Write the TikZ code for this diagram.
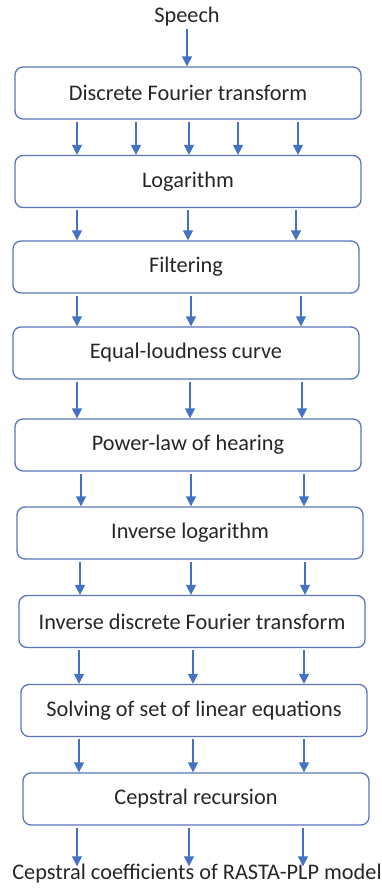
\documentclass[tikz,border=0pt]{standalone}
\usepackage{fontspec}
\setmainfont{Carlito}
\usetikzlibrary{arrows.meta}
\definecolor{boxline}{HTML}{5B74BC}
\definecolor{arrowc}{HTML}{4472C4}
\definecolor{txt}{HTML}{262626}
\begin{document}
\begin{tikzpicture}[x=1pt,y=-1pt,
  stage/.style={draw=boxline, line width=1.3pt, rounded corners=8pt, minimum width=346pt, minimum height=52pt, inner sep=0pt, text=txt, font=\fontsize{22.3}{26}\selectfont},
  lbl/.style={inner sep=0pt, text=txt, font=\fontsize{22.3}{26}\selectfont},
  arr/.style={draw=arrowc, line width=1.3pt, -{Triangle[width=10pt,length=10pt]}, shorten <=2pt}]
\useasboundingbox (0,0) rectangle (382,889);
\node[lbl] (sp) at (187,17) {Speech};
\node[stage] (b1) at (188,93) {Discrete Fourier transform};
\node[stage] (b2) at (188,181.5) {Logarithm};
\node[stage] (b3) at (186,267) {Filtering};
\node[stage] (b4) at (186,353) {Equal-loudness curve};
\node[stage] (b5) at (188,445) {Power-law of hearing};
\node[stage] (b6) at (190,533) {Inverse logarithm};
\node[stage] (b7) at (192,621.5) {Inverse discrete Fourier transform};
\node[stage] (b8) at (194,710.5) {Solving of set of linear equations};
\node[stage] (b9) at (196,799) {Cepstral recursion};
\node[lbl] (out) at (197,874) {Cepstral coefficients of RASTA-PLP model};
\draw[arr] (sp.south -| 187,0) -- (b1.north -| 187,0);
\foreach \x in {77,136,189,238,298} \draw[arr] (b1.south -| \x,0) -- (b2.north -| \x,0);
\foreach \x in {77,188,296} \draw[arr] (b2.south -| \x,0) -- (b3.north -| \x,0);
\foreach \x in {77,191,301} \draw[arr] (b3.south -| \x,0) -- (b4.north -| \x,0);
\foreach \x in {77,190,302} \draw[arr] (b4.south -| \x,0) -- (b5.north -| \x,0);
\foreach \x in {81,191,304} \draw[arr] (b5.south -| \x,0) -- (b6.north -| \x,0);
\foreach \x in {80,191,305} \draw[arr] (b6.south -| \x,0) -- (b7.north -| \x,0);
\foreach \x in {79,193,304} \draw[arr] (b7.south -| \x,0) -- (b8.north -| \x,0);
\foreach \x in {79,193,304} \draw[arr] (b8.south -| \x,0) -- (b9.north -| \x,0);
\foreach \x in {77,189,303} \draw[arr] (b9.south -| \x,0) -- ([yshift=-2pt]out.north -| \x,0);
\end{tikzpicture}
\end{document}
